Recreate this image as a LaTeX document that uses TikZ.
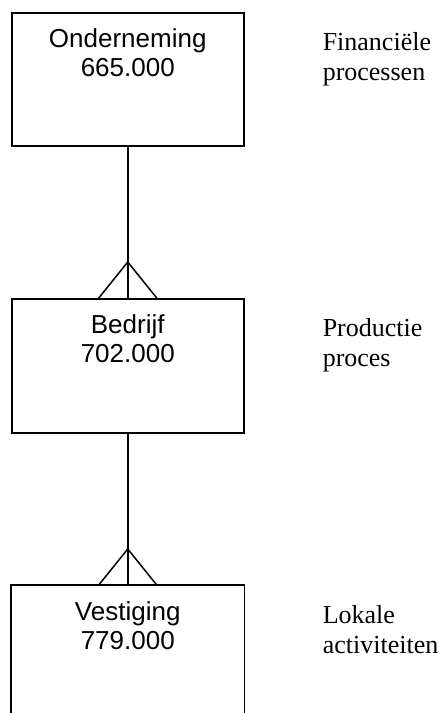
\documentclass[tikz,border=0pt]{standalone}
\usepackage{fontspec}
\setmainfont{Liberation Serif}
\newfontfamily\arialfont{Liberation Sans}
\usetikzlibrary{calc}
\tikzset{
  entitybox/.style={draw, rectangle, minimum width=232pt, inner sep=0pt, anchor=north west},
  openbox/.style={rectangle, minimum width=232pt, inner sep=0pt, anchor=north west},
  boxtext/.style={font=\arialfont\fontsize{26}{29}\selectfont, anchor=base, inner sep=0pt},
  sidetext/.style={font=\fontsize{26}{30}\selectfont, anchor=base west, inner sep=0pt},
  link/.style={line width=1.5pt},
}
\begin{document}
\begin{tikzpicture}[x=1pt,y=-1pt,line width=1.5pt]
\useasboundingbox (0,0) rectangle (441,713);
% boxes
\node[entitybox, minimum height=133pt] (o) at (11,12) {};
\node[entitybox, minimum height=134pt] (b) at (11,298) {};
\node[openbox, minimum height=140pt] (v) at (11,585) {};
\draw[link] (v.south west) -- (v.north west) -- (v.north east) -- (v.south east);
% box texts
\node[boxtext] (o1) at ($(o.north)+(0,35)$) {Onderneming};
\node[boxtext] (o2) at ($(o.north)+(0,64)$) {665.000};
\node[boxtext] (b1) at ($(b.north)+(0,35)$) {Bedrijf};
\node[boxtext] (b2) at ($(b.north)+(0,64)$) {702.000};
\node[boxtext] (v1) at ($(v.north)+(0,35)$) {Vestiging};
\node[boxtext] (v2) at ($(v.north)+(0,64)$) {779.000};
% side texts
\node[sidetext] (s1) at (322,50) {Financiële};
\node[sidetext] (s2) at (322,80) {processen};
\node[sidetext] (s3) at (322,336) {Productie};
\node[sidetext] (s4) at (322,366) {proces};
\node[sidetext] (s5) at (322,623) {Lokale};
\node[sidetext] (s6) at (322,653) {activiteiten};
% connectors with crow's feet
\draw[link] (o.south) -- (b.north);
\draw[link] ($(b.north)+(-29,0)$) -- ($(b.north)+(0,-36)$) -- ($(b.north)+(29,0)$);
\draw[link] (b.south) -- (v.north);
\draw[link] ($(v.north)+(-29,0)$) -- ($(v.north)+(0,-36)$) -- ($(v.north)+(29,0)$);
\end{tikzpicture}
\end{document}
